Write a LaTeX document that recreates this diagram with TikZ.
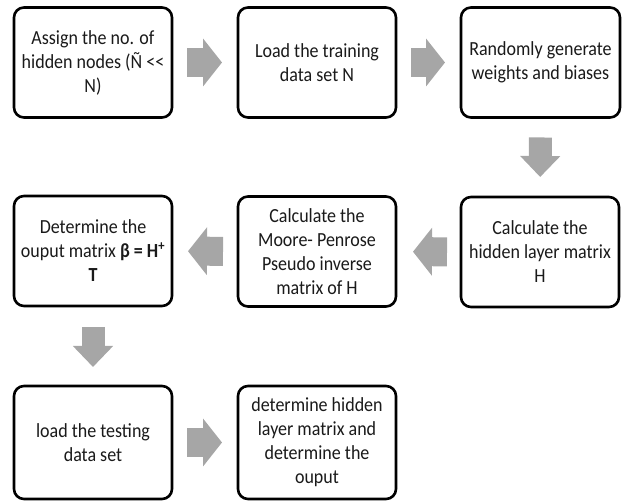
\documentclass[tikz,border=0pt]{standalone}
\usepackage{fontspec}
\setmainfont{Carlito}[FakeStretch=0.9]
\usetikzlibrary{arrows.meta}
\definecolor{arrowgray}{HTML}{A6A6A6}
\definecolor{txt}{HTML}{1A1A1A}
\tikzset{
  stepbox/.style={draw=black, line width=2.6pt, rounded corners=10pt, fill=white,
    minimum width=158pt, minimum height=110pt, outer sep=0pt, inner sep=2pt,
    align=center, text=txt, font=\fontsize{20}{24}\selectfont},
  harrow/.style={draw=arrowgray, line width=29pt,
    -{Triangle[width=47pt 0, length=19pt 0]}, shorten <=15pt, shorten >=16pt},
  varrow/.style={draw=arrowgray, line width=23pt,
    -{Triangle[width=39pt 0, length=21pt 0]}, shorten <=20pt, shorten >=20pt}
}
\begin{document}
\begin{tikzpicture}[x=1pt,y=1pt]
\useasboundingbox (0,0) rectangle (625,502);
\node[stepbox] (b1) at (93,439.5) {Assign the no. of\\hidden nodes (Ñ <\kern0pt<\\N)};
\node[stepbox] (b2) at (317,439.5) {Load the training\\data set N};
\node[stepbox, minimum width=159pt] (b3) at (540.5,439.5) {Randomly generate\\weights and biases};
\node[stepbox] (b4) at (93,251) {Determine the\\ouput matrix \textbf{β = H\textsuperscript{+}}\\\textbf{T}};
\node[stepbox] (b5) at (317,250.5) {Calculate the\\Moore- Penrose\\Pseudo inverse\\matrix of H};
\node[stepbox] (b6) at (540,250) {Calculate the\\hidden layer matrix\\H};
\node[stepbox, minimum height=113pt] (b7) at (93,59.5) {load the testing\\data set};
\node[stepbox, minimum height=113pt] (b8) at (317,59.5) {determine hidden\\layer matrix and\\determine the\\ouput};
\draw[harrow] (b1) -- (b2);
\draw[harrow] (b2) -- (b3);
\draw[varrow] (b3) -- (b6);
\draw[harrow, shorten <=14pt, shorten >=17pt] (b6) -- (b5);
\draw[harrow] (b5) -- (b4);
\draw[varrow, shorten <=21pt, shorten >=19pt] (b4) -- (b7);
\draw[harrow] (b7) -- (b8);
\end{tikzpicture}
\end{document}
